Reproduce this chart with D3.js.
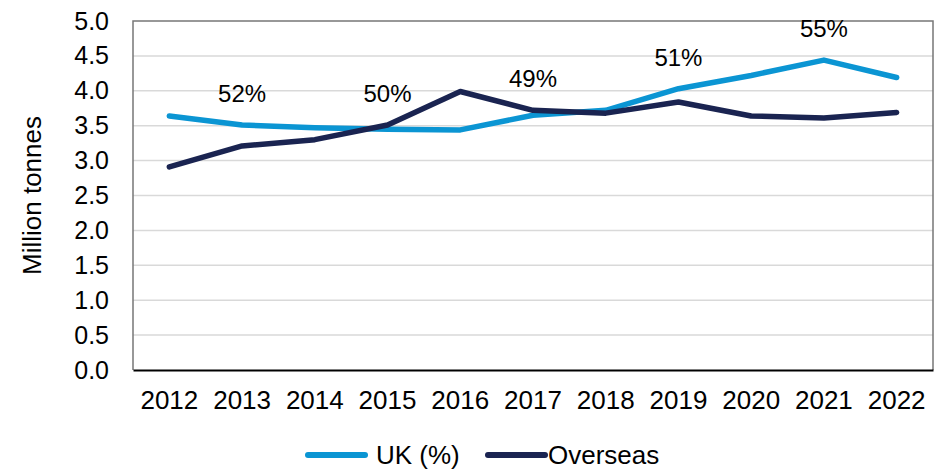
<!DOCTYPE html>
<html>
<head>
<meta charset="utf-8">
<script src="https://cdn.jsdelivr.net/npm/d3@7"></script>
<style>
  body { margin: 0; background: #fff; }
  svg { display: block; font-family: "Liberation Sans", Arial, Helvetica, sans-serif; }
  .grid line { stroke: #d9d9d9; stroke-width: 1.5; }
</style>
</head>
<body>
<svg id="chart" width="939" height="469"></svg>
<script>
// data
const years = ["2012", "2013", "2014", "2015", "2016", "2017", "2018", "2019", "2020", "2021", "2022"];
const uk = [3.64, 3.51, 3.47, 3.45, 3.44, 3.65, 3.72, 4.03, 4.22, 4.44, 4.19];
const overseas = [2.91, 3.21, 3.30, 3.51, 3.99, 3.72, 3.68, 3.84, 3.64, 3.61, 3.69];
const shareYears = ["2013", "2015", "2017", "2019", "2021"];
const shareLabels = ["52%", "50%", "49%", "51%", "55%"];
const yTicks = [0, 0.5, 1, 1.5, 2, 2.5, 3, 3.5, 4, 4.5, 5];

const colors = { uk: "#0b95d3", overseas: "#1a2451" };

const margin = { top: 21, right: 6, bottom: 99, left: 133 };
const W = 939, H = 469;
const w = W - margin.left - margin.right;
const h = H - margin.top - margin.bottom;

const svg = d3.select("#chart");
const g = svg.append("g").attr("transform", `translate(${margin.left},${margin.top})`);

const x = d3.scaleBand().domain(years).range([0, w]);
const y = d3.scaleLinear().domain([0, 5]).range([h, 0]);
const xc = d => x(d) + x.bandwidth() / 2;

// gridlines
g.append("g").attr("class", "grid")
  .selectAll("line")
  .data(yTicks.filter(t => t > 0 && t < 5))
  .enter().append("line")
  .attr("x1", 0).attr("x2", w)
  .attr("y1", d => y(d)).attr("y2", d => y(d));

// plot frame (grey) on left, top and right
g.append("path")
  .attr("d", `M0,${h}V0H${w}V${h}`)
  .attr("fill", "none")
  .attr("stroke", "#777")
  .attr("stroke-width", 1.5);

// y axis labels
const yAxis = d3.axisLeft(y).tickValues(yTicks).tickFormat(d3.format(".1f")).tickSize(0).tickPadding(24);
g.append("g").call(yAxis)
  .call(a => a.select(".domain").remove())
  .selectAll("text")
  .attr("font-size", 25)
  .attr("fill", "#000")
  .attr("font-family", "Liberation Sans, Arial, sans-serif");

// x axis
const xAxis = d3.axisBottom(x).tickSize(0).tickPadding(21);
g.append("g").attr("transform", `translate(0,${h})`).call(xAxis)
  .call(a => a.select(".domain").attr("stroke", "#000").attr("stroke-width", 2))
  .selectAll("text")
  .attr("font-size", 26)
  .attr("fill", "#000")
  .attr("font-family", "Liberation Sans, Arial, sans-serif");

// lines
const line = d3.line().x((d, i) => xc(years[i])).y(d => y(d));

g.append("path").datum(uk)
  .attr("d", line)
  .attr("fill", "none")
  .attr("stroke", colors.uk)
  .attr("stroke-width", 5.5)
  .attr("stroke-linejoin", "round")
  .attr("stroke-linecap", "round");

g.append("path").datum(overseas)
  .attr("d", line)
  .attr("fill", "none")
  .attr("stroke", colors.overseas)
  .attr("stroke-width", 5.5)
  .attr("stroke-linejoin", "round")
  .attr("stroke-linecap", "round");

// UK share labels, above the higher of the two lines
g.selectAll(".share")
  .data(shareLabels)
  .enter().append("text")
  .attr("class", "share")
  .attr("x", (d, i) => xc(shareYears[i]))
  .attr("y", (d, i) => {
    const k = years.indexOf(shareYears[i]);
    return y(Math.max(uk[k], overseas[k])) - 23;
  })
  .attr("text-anchor", "middle")
  .attr("font-size", 24)
  .attr("fill", "#000")
  .text(d => d);

// y axis title
svg.append("text")
  .attr("transform", `translate(41,${margin.top + h / 2}) rotate(-90)`)
  .attr("text-anchor", "middle")
  .attr("font-size", 26)
  .attr("fill", "#000")
  .text("Million tonnes");

// legend
const legend = svg.append("g").attr("transform", "translate(308,455)");
const items = [
  { name: "UK (%)", color: colors.uk, x: 0, tx: 68 },
  { name: "Overseas", color: colors.overseas, x: 180, tx: 240 }
];
items.forEach(it => {
  legend.append("line")
    .attr("x1", it.x).attr("x2", it.x + 57)
    .attr("y1", 0).attr("y2", 0)
    .attr("stroke", it.color)
    .attr("stroke-width", 6)
    .attr("stroke-linecap", "round");
  legend.append("text")
    .attr("x", it.tx).attr("y", 9)
    .attr("font-size", 26)
    .attr("fill", "#000")
    .text(it.name);
});
</script>
</body>
</html>
